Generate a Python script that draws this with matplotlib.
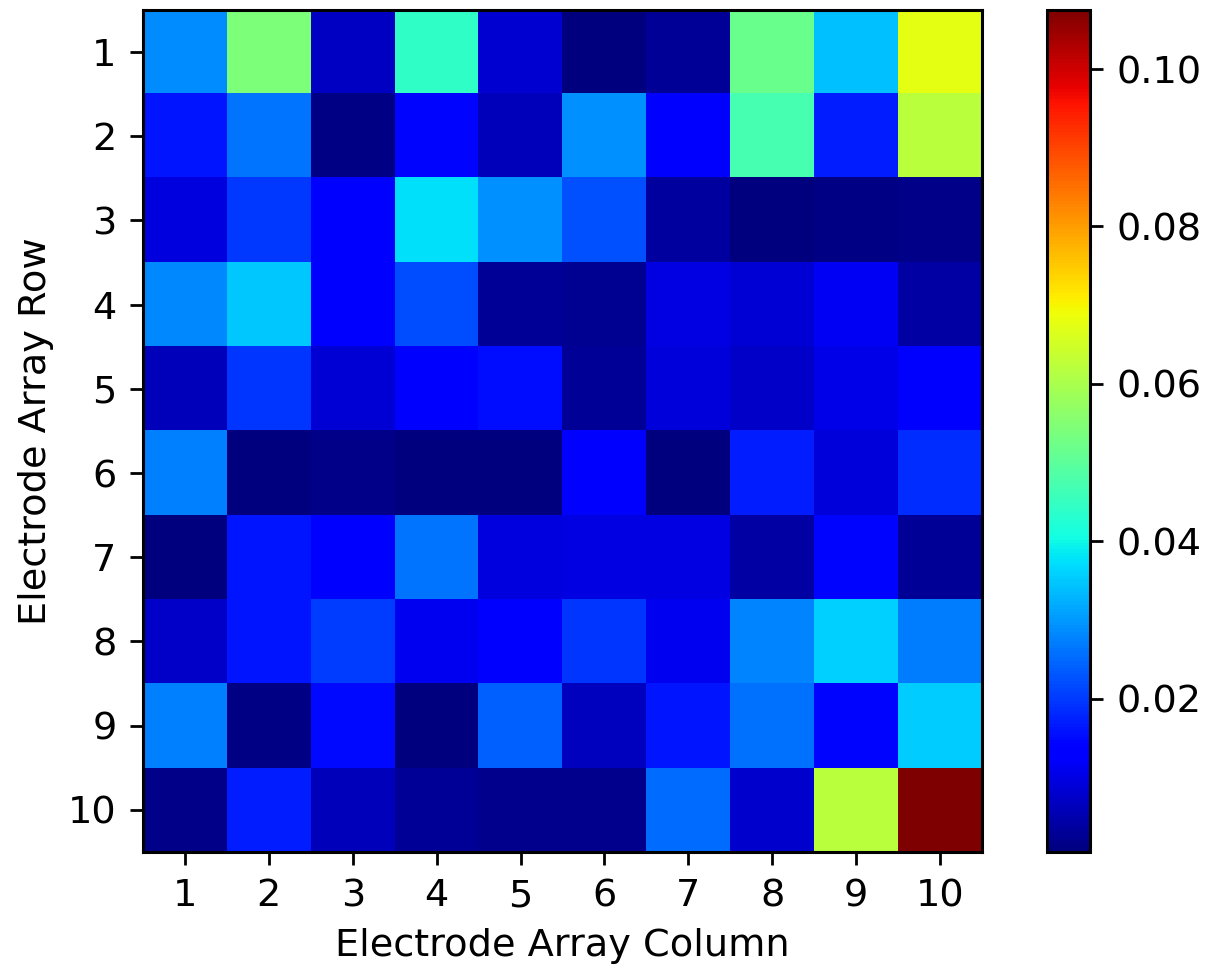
import numpy as np
import matplotlib
matplotlib.use('Agg')
import matplotlib.pyplot as plt

row_labels = ['1', '2', '3', '4', '5', '6', '7', '8', '9', '10']
col_labels = ['1', '2', '3', '4', '5', '6', '7', '8', '9', '10']

# per-row values
row_1 = [0.0287, 0.0540, 0.0071, 0.0440, 0.0083, 0.0008, 0.0030, 0.0515, 0.0340, 0.0675]
row_2 = [0.0160, 0.0260, 0.0012, 0.0145, 0.0060, 0.0290, 0.0123, 0.0470, 0.0170, 0.0620]
row_3 = [0.0095, 0.0200, 0.0128, 0.0375, 0.0290, 0.0225, 0.0035, 0.0006, 0.0012, 0.0015]
row_4 = [0.0285, 0.0348, 0.0130, 0.0222, 0.0028, 0.0022, 0.0098, 0.0085, 0.0115, 0.0042]
row_5 = [0.0063, 0.0195, 0.0085, 0.0128, 0.0155, 0.0030, 0.0090, 0.0075, 0.0105, 0.0140]
row_6 = [0.0275, 0.0005, 0.0015, 0.0008, 0.0006, 0.0138, 0.0008, 0.0170, 0.0092, 0.0188]
row_7 = [0.0006, 0.0160, 0.0128, 0.0260, 0.0095, 0.0100, 0.0100, 0.0040, 0.0147, 0.0030]
row_8 = [0.0072, 0.0160, 0.0205, 0.0110, 0.0125, 0.0195, 0.0110, 0.0280, 0.0360, 0.0270]
row_9 = [0.0275, 0.0010, 0.0150, 0.0006, 0.0240, 0.0065, 0.0160, 0.0257, 0.0145, 0.0355]
row_10 = [0.0015, 0.0170, 0.0060, 0.0030, 0.0018, 0.0020, 0.0255, 0.0080, 0.0620, 0.1075]

cbar_ticks = [0.02, 0.04, 0.06, 0.08, 0.10]

FS = 27.5  # everything looks like a default figure scaled ~2.75x


def main():
    data = np.array([row_1, row_2, row_3, row_4, row_5,
                     row_6, row_7, row_8, row_9, row_10])

    fig = plt.figure(figsize=(12.12, 9.71), dpi=100)
    ax = fig.add_axes([143 / 1212, 1 - 852 / 971, 839 / 1212, 842 / 971])
    cax = fig.add_axes([1047 / 1212, 1 - 852 / 971, 43 / 1212, 842 / 971])

    im = ax.imshow(data, cmap='jet', aspect='auto', interpolation='nearest')

    ax.set_xticks(range(len(col_labels)))
    ax.set_xticklabels(col_labels)
    ax.set_yticks(range(len(row_labels)))
    ax.set_yticklabels(row_labels)
    ax.tick_params(labelsize=FS, length=9.5, width=2, pad=9.5)
    ax.set_xlabel('Electrode Array Column', fontsize=FS, labelpad=10)
    ax.set_ylabel('Electrode Array Row', fontsize=FS, labelpad=10)
    for s in ax.spines.values():
        s.set_linewidth(2.2)

    cb = fig.colorbar(im, cax=cax, ticks=cbar_ticks)
    cb.ax.set_yticklabels(['%.2f' % t for t in cbar_ticks])
    cb.ax.tick_params(labelsize=FS, length=9.5, width=2, pad=9.5)
    cb.outline.set_linewidth(2.2)

    fig.savefig('out.png', dpi=100)


if __name__ == '__main__':
    main()
